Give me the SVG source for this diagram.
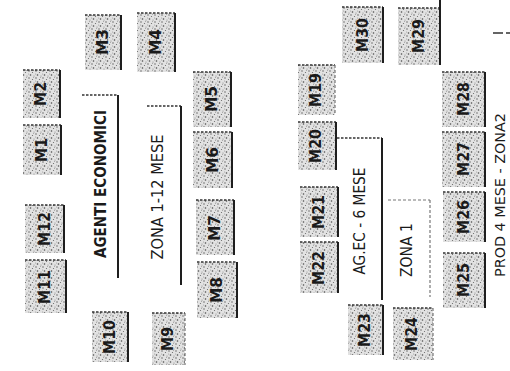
<svg xmlns="http://www.w3.org/2000/svg" width="510" height="371" viewBox="0 0 510 371">
<style>
.bg{fill:#ffffff}
.box{fill:url(#speckle);stroke:none}
.top{stroke:#333;stroke-width:1.5;stroke-dasharray:2.5 1.5;fill:none}
.right{stroke:#1e1e1e;stroke-width:2;fill:none}
.faint{stroke:#777;stroke-width:1.2;stroke-dasharray:3 2;fill:none}
.lbl{font-family:"DejaVu Sans Condensed","DejaVu Sans","Liberation Sans",sans-serif;font-weight:bold;font-size:16px;fill:#1a1a1a;text-anchor:middle}
.big{font-family:"DejaVu Sans Condensed","DejaVu Sans","Liberation Sans",sans-serif;font-size:15px;fill:#1a1a1a;text-anchor:middle}
.bold{font-weight:bold}
</style>
<defs>
<pattern id="speckle" width="7" height="7" patternUnits="userSpaceOnUse">
<rect width="7" height="7" fill="#e2e2e2"/>
<circle cx="1" cy="1" r="0.7" fill="#555"/>
<circle cx="4.5" cy="2.5" r="0.6" fill="#666"/>
<circle cx="2.5" cy="5" r="0.8" fill="#4a4a4a"/>
<circle cx="6" cy="6" r="0.5" fill="#777"/>
<circle cx="5.5" cy="0.5" r="0.5" fill="#999"/>
<circle cx="0.5" cy="4" r="0.5" fill="#999"/>
</pattern>
</defs>
<rect class="bg" width="510" height="371"/>

<g id="M1"><rect class="box" x="23" y="125" width="38" height="50"/><path class="top" d="M23 125H61"/><path class="right" d="M61 125V175"/><text class="lbl" transform="translate(41,150) rotate(-90)" dy="0.36em" textLength="24" lengthAdjust="spacingAndGlyphs">M1</text></g>
<g id="M2"><rect class="box" x="23" y="70" width="37" height="48"/><path class="top" d="M23 70H60"/><path class="right" d="M60 70V118"/><text class="lbl" transform="translate(40,94) rotate(-90)" dy="0.36em" textLength="24" lengthAdjust="spacingAndGlyphs">M2</text></g>
<g id="M3"><rect class="box" x="85" y="15" width="36" height="55"/><path class="top" d="M85 15H121"/><path class="right" d="M121 15V70"/><text class="lbl" transform="translate(102,42) rotate(-90)" dy="0.36em" textLength="26" lengthAdjust="spacingAndGlyphs">M3</text></g>
<g id="M4"><rect class="box" x="137" y="13" width="38" height="59"/><path class="top" d="M137 13H175"/><path class="right" d="M175 13V72"/><text class="lbl" transform="translate(155,42) rotate(-90)" dy="0.36em" textLength="26" lengthAdjust="spacingAndGlyphs">M4</text></g>
<g id="M5"><rect class="box" x="193" y="72" width="38" height="55"/><path class="top" d="M193 72H231"/><path class="right" d="M231 72V127"/><text class="lbl" transform="translate(211,99) rotate(-90)" dy="0.36em" textLength="26" lengthAdjust="spacingAndGlyphs">M5</text></g>
<g id="M6"><rect class="box" x="193" y="132" width="39" height="56"/><path class="top" d="M193 132H232"/><path class="right" d="M232 132V188"/><text class="lbl" transform="translate(212,160) rotate(-90)" dy="0.36em" textLength="26" lengthAdjust="spacingAndGlyphs">M6</text></g>
<g id="M7"><rect class="box" x="196" y="200" width="38" height="55"/><path class="top" d="M196 200H234"/><path class="right" d="M234 200V255"/><text class="lbl" transform="translate(214,228) rotate(-90)" dy="0.36em" textLength="26" lengthAdjust="spacingAndGlyphs">M7</text></g>
<g id="M8"><rect class="box" x="197" y="262" width="40" height="56"/><path class="top" d="M197 262H237"/><path class="right" d="M237 262V318"/><text class="lbl" transform="translate(216,290) rotate(-90)" dy="0.36em" textLength="26" lengthAdjust="spacingAndGlyphs">M8</text></g>
<g id="M9"><rect class="box" x="152" y="313" width="33" height="52"/><path class="top" d="M152 313H185"/><path class="faint" d="M185 313V365"/><text class="lbl" transform="translate(167,339) rotate(-90)" dy="0.36em" textLength="24" lengthAdjust="spacingAndGlyphs">M9</text></g>
<g id="M10"><rect class="box" x="92" y="312" width="36" height="50"/><path class="top" d="M92 312H128"/><path class="right" d="M128 312V362"/><text class="lbl" transform="translate(109,337) rotate(-90)" dy="0.36em" textLength="34" lengthAdjust="spacingAndGlyphs">M10</text></g>
<g id="M11"><rect class="box" x="25" y="260" width="41" height="53"/><path class="top" d="M25 260H66"/><path class="right" d="M66 260V313"/><text class="lbl" transform="translate(44,287) rotate(-90)" dy="0.36em" textLength="34" lengthAdjust="spacingAndGlyphs">M11</text></g>
<g id="M12"><rect class="box" x="25" y="205" width="39" height="48"/><path class="top" d="M25 205H64"/><path class="right" d="M64 205V253"/><text class="lbl" transform="translate(44,229) rotate(-90)" dy="0.36em" textLength="34" lengthAdjust="spacingAndGlyphs">M12</text></g>
<g id="M19"><rect class="box" x="298" y="65" width="37" height="50"/><path class="top" d="M298 65H335"/><path class="faint" d="M335 65V115"/><text class="lbl" transform="translate(315,90) rotate(-90)" dy="0.36em" textLength="34" lengthAdjust="spacingAndGlyphs">M19</text></g>
<g id="M20"><rect class="box" x="298" y="122" width="38" height="48"/><path class="top" d="M298 122H336"/><path class="right" d="M336 122V170"/><text class="lbl" transform="translate(315,146) rotate(-90)" dy="0.36em" textLength="34" lengthAdjust="spacingAndGlyphs">M20</text></g>
<g id="M21"><rect class="box" x="300" y="187" width="38" height="50"/><path class="top" d="M300 187H338"/><path class="right" d="M338 187V237"/><text class="lbl" transform="translate(318,212) rotate(-90)" dy="0.36em" textLength="34" lengthAdjust="spacingAndGlyphs">M21</text></g>
<g id="M22"><rect class="box" x="300" y="242" width="38" height="51"/><path class="top" d="M300 242H338"/><path class="right" d="M338 242V293"/><text class="lbl" transform="translate(318,268) rotate(-90)" dy="0.36em" textLength="34" lengthAdjust="spacingAndGlyphs">M22</text></g>
<g id="M23"><rect class="box" x="348" y="305" width="35" height="50"/><path class="top" d="M348 305H383"/><path class="right" d="M383 305V355"/><text class="lbl" transform="translate(364,330) rotate(-90)" dy="0.36em" textLength="34" lengthAdjust="spacingAndGlyphs">M23</text></g>
<g id="M24"><rect class="box" x="393" y="308" width="40" height="52"/><path class="top" d="M393 308H433"/><path class="faint" d="M433 308V360"/><text class="lbl" transform="translate(411,334) rotate(-90)" dy="0.36em" textLength="34" lengthAdjust="spacingAndGlyphs">M24</text></g>
<g id="M25"><rect class="box" x="443" y="253" width="42" height="55"/><path class="top" d="M443 253H485"/><path class="right" d="M485 253V308"/><text class="lbl" transform="translate(463,280) rotate(-90)" dy="0.36em" textLength="34" lengthAdjust="spacingAndGlyphs">M25</text></g>
<g id="M26"><rect class="box" x="443" y="192" width="42" height="50"/><path class="top" d="M443 192H485"/><path class="right" d="M485 192V242"/><text class="lbl" transform="translate(463,217) rotate(-90)" dy="0.36em" textLength="34" lengthAdjust="spacingAndGlyphs">M26</text></g>
<g id="M27"><rect class="box" x="442" y="132" width="43" height="55"/><path class="top" d="M442 132H485"/><path class="right" d="M485 132V187"/><text class="lbl" transform="translate(463,159) rotate(-90)" dy="0.36em" textLength="34" lengthAdjust="spacingAndGlyphs">M27</text></g>
<g id="M28"><rect class="box" x="442" y="72" width="43" height="55"/><path class="top" d="M442 72H485"/><path class="right" d="M485 72V127"/><text class="lbl" transform="translate(463,99) rotate(-90)" dy="0.36em" textLength="34" lengthAdjust="spacingAndGlyphs">M28</text></g>
<g id="M29"><rect class="box" x="398" y="8" width="42" height="57"/><path class="top" d="M398 8H440"/><path class="right" d="M440 0V65"/><text class="lbl" transform="translate(418,36) rotate(-90)" dy="0.36em" textLength="34" lengthAdjust="spacingAndGlyphs">M29</text></g>
<g id="M30"><rect class="box" x="342" y="7" width="41" height="56"/><path class="top" d="M342 7H383"/><path class="right" d="M383 7V63"/><text class="lbl" transform="translate(362,35) rotate(-90)" dy="0.36em" textLength="34" lengthAdjust="spacingAndGlyphs">M30</text></g>

<g id="agenti-economici"><path class="top" d="M82 95H118"/><path class="right" d="M118 95V278"/><text class="big bold" transform="translate(101,184) rotate(-90)" dy="0.36em" textLength="148" lengthAdjust="spacingAndGlyphs">AGENTI ECONOMICI</text></g>
<g id="zona-1-12-mese"><path class="top" d="M147 106H181"/><path class="right" d="M181 106V285"/><text class="big" transform="translate(158,197) rotate(-90)" dy="0.36em" textLength="125" lengthAdjust="spacingAndGlyphs">ZONA 1-12 MESE</text></g>
<g id="ag-ec-6-mese"><path class="top" d="M337 138H382"/><path class="right" d="M382 138V300"/><text class="big" transform="translate(360,221) rotate(-90)" dy="0.36em" textLength="107" lengthAdjust="spacingAndGlyphs">AG.EC - 6 MESE</text></g>
<g id="zona-1"><path class="faint" d="M388 200H430"/><path class="faint" d="M430 200V297"/><text class="big" transform="translate(407,250) rotate(-90)" dy="0.36em" textLength="54" lengthAdjust="spacingAndGlyphs">ZONA 1</text></g>
<g id="prod-4-mese-zona2"><text class="big" style="font-size:14px" transform="translate(500,195) rotate(-90)" dy="0.36em" textLength="164" lengthAdjust="spacingAndGlyphs">PROD 4 MESE - ZONA2</text></g>

<g id="connectors"/>
<g id="marks"><path d="M493 33H503M506 33H510" stroke="#333" stroke-width="1.6" fill="none"/></g>
</svg>
